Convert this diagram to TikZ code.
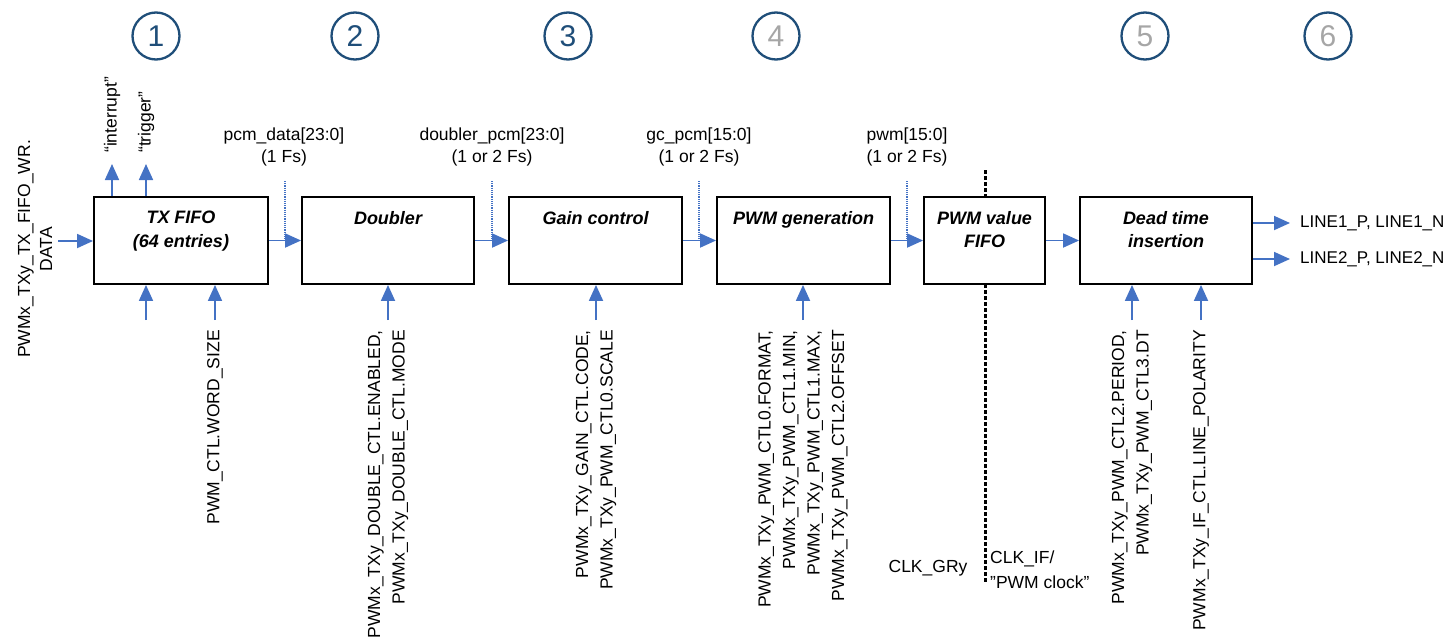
\documentclass[tikz,border=0pt]{standalone}
\usepackage{fontspec}
\setmainfont{Liberation Sans}
\usetikzlibrary{arrows.meta}
\definecolor{arrblue}{RGB}{68,114,196}
\definecolor{circblue}{RGB}{31,78,121}
\definecolor{numgray}{RGB}{166,166,166}
\begin{document}
\begin{tikzpicture}[x=1pt,y=-1pt,
  box/.style={draw=black, line width=1.9pt, fill=white, minimum height=87pt, inner sep=0pt},
  boxtext/.style={anchor=north, align=center, inner sep=0pt, font=\fontsize{18}{23.5}\selectfont\bfseries\itshape},
  arr/.style={draw=arrblue, line width=1.8pt, -{Triangle[length=16pt,width=14pt]}},
  tap/.style={draw=arrblue, line width=1.1pt, dash pattern=on 1.2pt off 1pt},
  lbl/.style={inner sep=0pt, font=\fontsize{17.5}{22}\selectfont},
  vlbl/.style={inner sep=0pt, rotate=90, anchor=east, align=right, font=\fontsize{17.5}{24.5}\selectfont},
  circ/.style={circle, draw=circblue, line width=2.3pt, minimum size=47pt, inner sep=0pt, font=\fontsize{30}{30}\selectfont},
  clkline/.style={draw=black, line width=3pt, dash pattern=on 3.5pt off 2.5pt},
]
\useasboundingbox (0,0) rectangle (1445,640);

% circles
\node[circ, text=circblue] (c1) at (156,36) {1};
\node[circ, text=circblue] (c2) at (355,36) {2};
\node[circ, text=circblue] (c3) at (568,36) {3};
\node[circ, text=numgray] (c4) at (776,36) {4};
\node[circ, text=numgray] (c5) at (1145,36) {5};
\node[circ, text=numgray] (c6) at (1328,36) {6};

% clock domain line
\coordinate (clkT) at (985,170);
\coordinate (clkB) at (985,582);
\draw[clkline] (clkT) -- (clkB);

% boxes
\node[box, minimum width=174pt] (tx) at (181,240.5) {};
\node[box, minimum width=172pt] (dbl) at (388,240.5) {};
\node[box, minimum width=173pt] (gc) at (595.5,240.5) {};
\node[box, minimum width=173pt] (pg) at (803.5,240.5) {};
\node[box, minimum width=121pt] (ff) at (984.5,240.5) {};
\node[box, minimum width=172pt] (dt) at (1166,240.5) {};

\node[boxtext] (txl) at (181,211) {TX FIFO\\(64 entries)};
\node[boxtext] (dbll) at (388,211) {Doubler};
\node[boxtext] (gcl) at (595.5,211) {Gain control};
\node[boxtext] (pgl) at (803.5,211) {PWM generation};
\node[boxtext] (ffl) at (984.5,211) {PWM value\\FIFO};
\node[boxtext] (dtl) at (1166,211) {Dead time\\insertion};

% main data path
\coordinate (inL) at (58,241);
\draw[arr] (inL) -- (inL -| tx.west);
\draw[arr] (tx) -- (dbl);
\draw[arr] (dbl) -- (gc);
\draw[arr] (gc) -- (pg);
\draw[arr] (pg) -- (ff);
\draw[arr] (ff) -- (dt);

% taps
\coordinate (t1) at (285,181);
\coordinate (t2) at (492,181);
\coordinate (t3) at (699,181);
\coordinate (t4) at (907,181);
\draw[tap] (t1) -- (t1 |- tx.east);
\draw[tap] (t2) -- (t2 |- tx.east);
\draw[tap] (t3) -- (t3 |- tx.east);
\draw[tap] (t4) -- (t4 |- tx.east);

\node[lbl, anchor=north, align=center] (l1) at (284,128) {pcm\_data[23:0]\\(1 Fs)};
\node[lbl, anchor=north, align=center] (l2) at (492,128) {doubler\_pcm[23:0]\\(1 or 2 Fs)};
\node[lbl, anchor=north, align=center] (l3) at (699,128) {gc\_pcm[15:0]\\(1 or 2 Fs)};
\node[lbl, anchor=north, align=center] (l4) at (907,128) {pwm[15:0]\\(1 or 2 Fs)};

% outputs of TX FIFO upwards
\coordinate (oI) at (112,164);
\coordinate (oT) at (146,164);
\draw[arr] (oI |- tx.north) -- (oI);
\draw[arr] (oT |- tx.north) -- (oT);
\node[lbl, rotate=90, anchor=west] (intl) at (112,153) {“interrupt”};
\node[lbl, rotate=90, anchor=west] (trgl) at (146,153) {“trigger”};

% input label
\node[lbl, rotate=90, align=center] (wrl) at (35,249) {PWMx\_TXy\_TX\_FIFO\_WR.\\DATA};

% outputs
\coordinate (o1) at (1290,223);
\coordinate (o2) at (1290,259);
\draw[arr] (o1 -| dt.east) -- (o1);
\draw[arr] (o2 -| dt.east) -- (o2);
\node[lbl, anchor=west, font=\fontsize{17}{22}\selectfont] (line1) at (1300,223) {LINE1\_P, LINE1\_N};
\node[lbl, anchor=west, font=\fontsize{17}{22}\selectfont] (line2) at (1300,259) {LINE2\_P, LINE2\_N};

% control inputs from below
\coordinate (s1) at (146,320);
\coordinate (s2) at (215,320);
\coordinate (s3) at (388,320);
\coordinate (s4) at (596,320);
\coordinate (s5) at (803,320);
\coordinate (s6) at (1132,320);
\coordinate (s7) at (1201,320);
\draw[arr] (s1) -- (s1 |- tx.south);
\draw[arr] (s2) -- (s2 |- tx.south);
\draw[arr] (s3) -- (s3 |- dbl.south);
\draw[arr] (s4) -- (s4 |- gc.south);
\draw[arr] (s5) -- (s5 |- pg.south);
\draw[arr] (s6) -- (s6 |- dt.south);
\draw[arr] (s7) -- (s7 |- dt.south);

\node[vlbl] (v2) at (215,330) {PWM\_CTL.WORD\_SIZE};
\node[vlbl] (v3) at (388,330) {PWMx\_TXy\_DOUBLE\_CTL.ENABLED,\\PWMx\_TXy\_DOUBLE\_CTL.MODE};
\node[vlbl] (v4) at (596,330) {PWMx\_TXy\_GAIN\_CTL.CODE,\\PWMx\_TXy\_PWM\_CTL0.SCALE};
\node[vlbl] (v5) at (803,330) {PWMx\_TXy\_PWM\_CTL0.FORMAT,\\PWMx\_TXy\_PWM\_CTL1.MIN,\\PWMx\_TXy\_PWM\_CTL1.MAX,\\PWMx\_TXy\_PWM\_CTL2.OFFSET};
\node[vlbl] (v6) at (1132,330) {PWMx\_TXy\_PWM\_CTL2.PERIOD,\\PWMx\_TXy\_PWM\_CTL3.DT};
\node[vlbl] (v7) at (1201,330) {PWMx\_TXy\_IF\_CTL.LINE\_POLARITY};

% clock labels
\node[lbl] (clkgr) at (928,568) {CLK\_GRy};
\node[lbl, anchor=west, align=left, font=\fontsize{17.5}{25}\selectfont] (clkif) at (990,569.5) {CLK\_IF/\\”PWM clock”};
\end{tikzpicture}
\end{document}
